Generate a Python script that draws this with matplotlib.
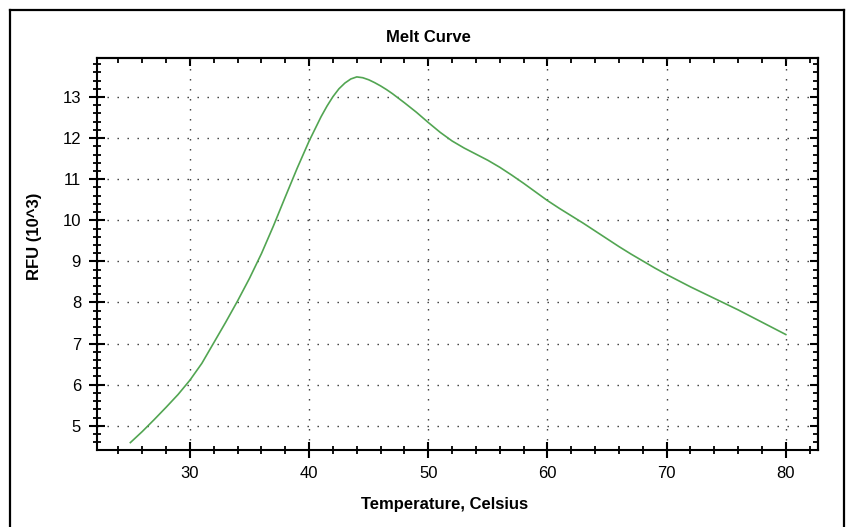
import matplotlib
matplotlib.use('Agg')
import matplotlib.pyplot as plt
from matplotlib.ticker import MultipleLocator, NullFormatter
from matplotlib.lines import Line2D

# Melt curve values (temperature in Celsius, RFU in 10^3)
# finer steps around the peak where the curve bends sharply
temperature = [25, 26, 27, 28, 29, 30, 31, 32, 33, 34, 35, 36, 37, 38, 39,
               40, 41, 41.5, 42, 42.5, 43, 43.5, 44, 44.5, 45, 45.5, 46,
               46.5, 47, 47.5, 48, 49, 50, 51, 52, 53, 54, 55, 56, 57, 58,
               59, 60, 61, 62, 63, 64, 65, 66, 67, 68, 69, 70, 71, 72, 73,
               74, 75, 76, 77, 78, 79, 80]
rfu = [4.59, 4.86, 5.15, 5.45, 5.76, 6.11, 6.52, 7.02, 7.52, 8.04, 8.59,
       9.19, 9.86, 10.57, 11.27, 11.93, 12.52, 12.78, 13.01, 13.20, 13.34,
       13.44, 13.49, 13.47, 13.42, 13.35, 13.27, 13.18, 13.08, 12.97,
       12.86, 12.63, 12.38, 12.14, 11.93, 11.76, 11.61, 11.46, 11.29,
       11.10, 10.90, 10.69, 10.48, 10.29, 10.11, 9.93, 9.74, 9.55, 9.36,
       9.18, 9.01, 8.84, 8.68, 8.53, 8.38, 8.24, 8.10, 7.96, 7.82, 7.67,
       7.52, 7.37, 7.22]

title = 'Melt Curve'
x_label = 'Temperature, Celsius'
y_label = 'RFU (10^3)'

plt.rcParams['font.family'] = ['Liberation Sans', 'DejaVu Sans']

W, H = 848, 527
fig = plt.figure(figsize=(W / 100, H / 100), dpi=100)

# axes box in pixels: left 97, right 818, top 58, bottom 450
ax = fig.add_axes([97 / W, 1 - 450 / H, (818 - 97) / W, (450 - 58) / H])

ax.plot(temperature, rfu, color='#52a552', linewidth=1.2,
        solid_joinstyle='round')

ax.set_xlim(22.2, 82.7)
ax.set_ylim(4.41, 13.95)

ax.xaxis.set_major_locator(MultipleLocator(10))
ax.xaxis.set_minor_locator(MultipleLocator(2))
ax.yaxis.set_major_locator(MultipleLocator(1))
ax.yaxis.set_minor_locator(MultipleLocator(0.2))

ax.grid(True, which='major', color='#333333', linewidth=1.0,
        linestyle=(0, (1.0, 6.2)))

for sp in ax.spines.values():
    sp.set_linewidth(1.5)

ax.tick_params(which='major', direction='inout', length=11, width=1.5,
               labelsize=12, pad=6)
ax.tick_params(which='minor', direction='inout', length=5.5, width=1.3)

# top and right ticks point inward
top = ax.secondary_xaxis('top')
top.xaxis.set_major_locator(MultipleLocator(10))
top.xaxis.set_minor_locator(MultipleLocator(2))
top.xaxis.set_major_formatter(NullFormatter())
top.tick_params(which='major', direction='in', length=6, width=1.5)
top.tick_params(which='minor', direction='in', length=3.5, width=1.3)
top.spines['top'].set_linewidth(1.5)

right = ax.secondary_yaxis('right')
right.yaxis.set_major_locator(MultipleLocator(1))
right.yaxis.set_minor_locator(MultipleLocator(0.2))
right.yaxis.set_major_formatter(NullFormatter())
right.tick_params(which='major', direction='in', length=6, width=1.5)
right.tick_params(which='minor', direction='in', length=3.5, width=1.3)
right.spines['right'].set_linewidth(1.5)

fig.text(428 / W, 1 - 38 / H, title, ha='center', va='center',
         fontsize=12, fontweight='bold')
fig.text(445 / W, 1 - 504 / H, x_label, ha='center', va='center',
         fontsize=12, fontweight='bold')
fig.text(34 / W, 1 - 236 / H, y_label, ha='center', va='center',
         rotation=90, fontsize=12, fontweight='bold')

# outer frame (bottom edge lies below the picture)
fx0, fx1, fy1 = 10 / W, 844 / W, 1 - 10 / H
for xs, ys in [([fx0, fx0], [0, fy1]), ([fx0, fx1], [fy1, fy1]),
               ([fx1, fx1], [fy1, 0])]:
    fig.add_artist(Line2D(xs, ys, transform=fig.transFigure,
                          color='black', linewidth=1.6))

fig.savefig('out.png', dpi=100)
